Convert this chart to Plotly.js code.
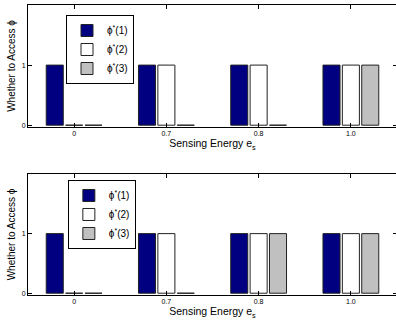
<!DOCTYPE html>
<html><head><meta charset="utf-8">
<script src="https://cdn.plot.ly/plotly-3.0.1.min.js"></script>
<style>html,body{margin:0;padding:0;background:#fff;overflow:hidden}</style>
</head><body><div id="chart" style="width:398px;height:322px"></div>
<script>
const categories = ['0', '0.7', '0.8', '1.0'];
const seriesNames = ['ϕ<sup>*</sup>(1)', 'ϕ<sup>*</sup>(2)', 'ϕ<sup>*</sup>(3)'];
const topPhi1 = [1, 1, 1, 1];
const topPhi2 = [0, 1, 1, 1];
const topPhi3 = [0, 0, 0, 1];
const botPhi1 = [1, 1, 1, 1];
const botPhi2 = [0, 1, 1, 1];
const botPhi3 = [0, 0, 1, 1];
const yTicks = [0, 1];

const colors = ['#000080', '#ffffff', '#c0c0c0'];
const FONT = 'Liberation Sans, Arial, sans-serif';

function bars(vals, idx, xa, ya, leg) {
  return {
    type: 'bar', x: categories, y: vals, name: seriesNames[idx],
    xaxis: xa, yaxis: ya, legend: leg,
    marker: {color: colors[idx], line: {color: '#222', width: 1}},
    hoverinfo: 'skip'
  };
}
const data = [
  bars(topPhi1, 0, 'x', 'y', 'legend'),
  bars(topPhi2, 1, 'x', 'y', 'legend'),
  bars(topPhi3, 2, 'x', 'y', 'legend'),
  bars(botPhi1, 0, 'x2', 'y2', 'legend2'),
  bars(botPhi2, 1, 'x2', 'y2', 'legend2'),
  bars(botPhi3, 2, 'x2', 'y2', 'legend2')
];

function xax(anchor) {
  return {
    anchor: anchor, type: 'category', range: [-0.5, 3.5],
    showline: true, mirror: 'ticks', linecolor: '#000', linewidth: 1,
    ticks: 'inside', ticklen: 4, tickcolor: '#000',
    tickfont: {size: 7, family: FONT, color: '#000'},
    showgrid: false, zeroline: false,
    title: {text: 'Sensing Energy e<sub>s</sub>', font: {size: 10.5, family: FONT, color: '#000'}, standoff: 0}
  };
}
function yax(anchor, dom) {
  return {
    anchor: anchor, domain: dom, range: [-0.03, 2],
    tickvals: yTicks, ticktext: yTicks.map(String),
    showline: true, mirror: 'ticks', linecolor: '#000', linewidth: 1,
    ticks: 'inside', ticklen: 4, tickcolor: '#000',
    tickfont: {size: 7, family: FONT, color: '#000'},
    showgrid: false, zeroline: false,
    title: {text: 'Whether to Access ϕ', font: {size: 10, family: FONT, color: '#000'}, standoff: 4}
  };
}
const layout = {
  width: 398, height: 322,
  margin: {l: 28, r: 1, t: 5, b: 27},
  paper_bgcolor: '#fff', plot_bgcolor: '#fff',
  font: {family: FONT, color: '#000'},
  barmode: 'group', bargap: 0.37, bargroupgap: 0.12,
  xaxis: xax('y'), yaxis: yax('x', [0.5793, 1]),
  xaxis2: xax('y2'), yaxis2: yax('x2', [0, 0.4172]),
  legend: {x: 0.103, y: 0.9655, xanchor: 'left', yanchor: 'top', bgcolor: '#fff',
           bordercolor: '#000', borderwidth: 1, font: {size: 10, family: FONT}, tracegroupgap: 0},
  legend2: {x: 0.108, y: 0.3966, xanchor: 'left', yanchor: 'top', bgcolor: '#fff',
           bordercolor: '#000', borderwidth: 1, font: {size: 10, family: FONT}, tracegroupgap: 0}
};
Plotly.newPlot('chart', data, layout, {staticPlot: true});
</script></body></html>
